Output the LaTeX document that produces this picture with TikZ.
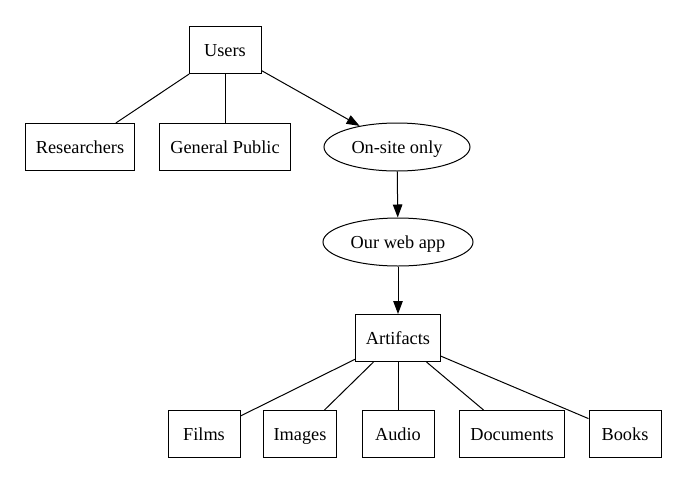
\documentclass[tikz,border=0pt]{standalone}
\usepackage{fontspec}
\setmainfont{Liberation Serif}
\usetikzlibrary{arrows.meta,shapes.geometric}

\begin{document}
\begin{tikzpicture}[x=1pt,y=-1pt,line width=1pt,
  box/.style={draw,rectangle,minimum width=72pt,minimum height=47pt,inner xsep=10.5pt,text height=15pt,text depth=2.5pt,font=\fontsize{18.3}{22}\selectfont},
  oval/.style={draw,ellipse,minimum height=48pt,text height=15pt,text depth=2.5pt,font=\fontsize{18.3}{22}\selectfont},
  link/.style={-{Triangle[length=13pt,width=9.5pt]}}]
\useasboundingbox (0,0) rectangle (688,485);
% top level
\node[box] (users) at (225,50) {Users};
\node[box] (researchers) at (80,147) {Researchers};
\node[box] (public) at (225,147) {General Public};
\node[oval,minimum width=146pt] (onsite) at (397,147) {On-site only};
\node[oval,minimum width=150pt] (webapp) at (398,242) {Our web app};
\node[box] (artifacts) at (398,338) {Artifacts};
% artifact kinds
\node[box] (films) at (204,434) {Films};
\node[box] (images) at (300,434) {Images};
\node[box] (audio) at (398,434) {Audio};
\node[box] (documents) at (512,434) {Documents};
\node[box] (books) at (625,434) {Books};
\draw (users) -- (researchers);
\draw (users) -- (public);
\draw[link] (users) -- (onsite);
\draw[link] (onsite) -- (webapp);
\draw[link] (webapp) -- (artifacts);
\draw (artifacts) -- (films);
\draw (artifacts) -- (images);
\draw (artifacts) -- (audio);
\draw (artifacts) -- (documents);
\draw (artifacts) -- (books);
\end{tikzpicture}
\end{document}
